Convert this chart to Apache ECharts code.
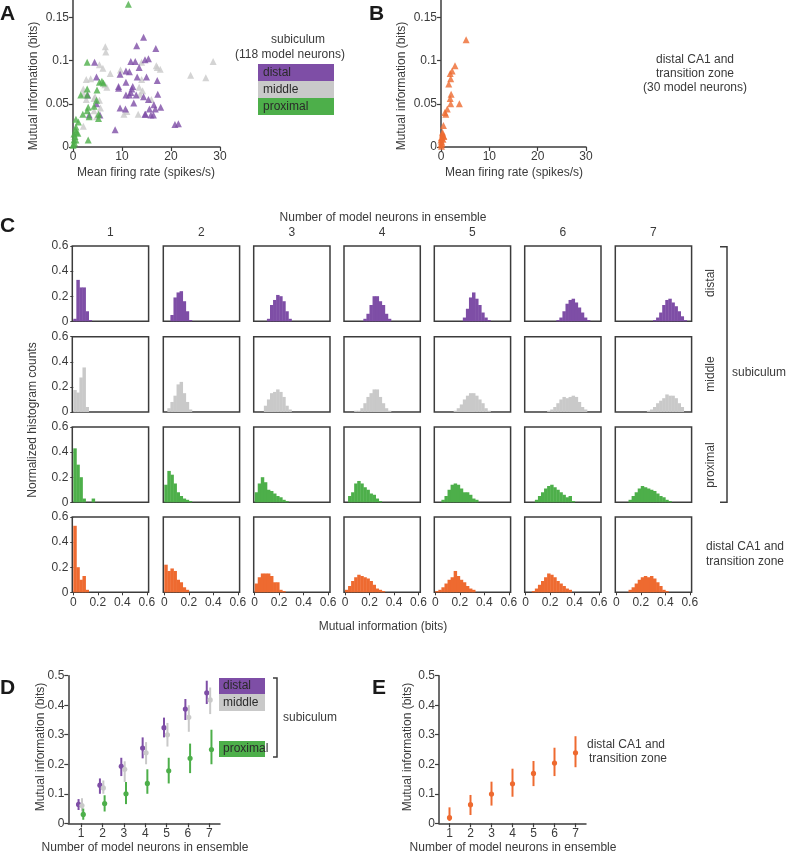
<!DOCTYPE html>
<html>
<head>
<meta charset="utf-8">
<script src="https://cdn.jsdelivr.net/npm/echarts@6/dist/echarts.min.js"></script>
<style>
html, body { margin: 0; padding: 0; background: #fff; }
#chart { width: 786px; height: 853px; }
</style>
</head>
<body>
<div id="chart"></div>
<script>
// ---- panel A / B : firing rate (spikes/s) vs mutual information (bits)
var distalPts = [[14.4,0.127],[13.0,0.117],[16.9,0.114],[4.4,0.098],[11.8,0.099],[12.7,0.099],[14.7,0.101],
    [15.4,0.102],[13.5,0.092],[10.8,0.088],[11.5,0.087],[9.6,0.084],[13.1,0.081],[15.0,0.081],[17.2,0.077],
    [10.8,0.075],[9.3,0.070],[9.3,0.068],[12.0,0.067],[12.2,0.070],[11.8,0.063],[10.8,0.060],[11.5,0.060],
    [12.9,0.060],[17.3,0.061],[14.4,0.058],[15.4,0.055],[12.4,0.051],[16.5,0.049],[9.6,0.045],[10.7,0.044],
    [15.6,0.044],[17.9,0.046],[14.8,0.038],[16.8,0.044],[15.9,0.037],[16.4,0.037],[14.7,0.038],[8.6,0.020],
    [20.8,0.026],[21.5,0.027],[3.0,0.060],[4.8,0.050],[4.8,0.081],[5.5,0.037],[3.3,0.037]];
var middlePts = [[6.6,0.116],[6.7,0.110],[28.6,0.099],[24.0,0.083],[27.1,0.080],[5.4,0.095],[6.1,0.091],
    [7.6,0.085],[2.7,0.078],[3.6,0.079],[9.7,0.089],[6.9,0.069],[14.0,0.098],[17.0,0.094],[17.2,0.092],
    [17.8,0.090],[14.0,0.078],[13.5,0.069],[14.2,0.065],[13.7,0.061],[16.0,0.055],[2.1,0.067],[2.2,0.062],
    [2.7,0.055],[4.5,0.058],[5.4,0.054],[5.6,0.045],[4.3,0.042],[4.8,0.035],[2.1,0.024],[10.4,0.038],
    [13.3,0.038],[4.3,0.056],[6.5,0.072],[11.0,0.041]];
var proximalPts = [[11.3,0.165],[2.9,0.098],[1.6,0.060],[2.9,0.067],[4.9,0.066],[2.9,0.060],[5.4,0.075],
    [5.9,0.076],[6.2,0.074],[4.8,0.054],[3.1,0.046],[2.9,0.042],[5.2,0.038],[5.2,0.033],[3.3,0.035],
    [4.3,0.047],[0.6,0.032],[1.1,0.029],[0.6,0.023],[0.7,0.017],[1.0,0.016],[0.4,0.012],[0.2,0.008],
    [0.1,0.003],[0.3,0.005],[0.0,0.002],[0.6,0.008],[3.1,0.008],[2.0,0.038],[0.2,0.015],[0.5,0.020]];
var ca1Pts = [[5.2,0.124],[2.9,0.094],[2.3,0.088],[1.9,0.085],[2.0,0.079],[1.6,0.073],[2.1,0.061],
    [1.9,0.056],[2.0,0.050],[3.8,0.050],[1.3,0.044],[0.8,0.040],[1.0,0.038],[0.5,0.025],[0.3,0.017],
    [0.5,0.013],[0.6,0.012],[0.2,0.010],[0.1,0.006],[0.0,0.003],[0.1,0.001],[0.3,0.015],[0.0,0.008],
    [0.2,0.004],[0.4,0.009],[0.1,0.011]];
var rateTicks = [0, 10, 20, 30];
var infoTicks = [0, 0.05, 0.1, 0.15];

// ---- panel C : histograms, bins of BIN bits, first bin index given in *Start
var BIN = 0.025;
var ensembleSizes = ['1', '2', '3', '4', '5', '6', '7'];
var histTicks = [0, 0.2, 0.4, 0.6];
var distalStart = [0, 2, 4, 6, 9, 10, 12];
var distalHist = [
    [0.02,0.33,0.27,0.27,0.08,0.01],
    [0.05,0.19,0.23,0.24,0.16,0.08,0.01],
    [0.02,0.13,0.17,0.21,0.20,0.16,0.08,0.02],
    [0.02,0.06,0.13,0.20,0.20,0.16,0.13,0.06,0.02],
    [0.03,0.10,0.19,0.23,0.18,0.13,0.07,0.03,0.01],
    [0.01,0.03,0.08,0.14,0.17,0.18,0.15,0.11,0.07,0.03,0.01],
    [0.01,0.03,0.07,0.13,0.17,0.18,0.15,0.12,0.08,0.04,0.01]];
var middleStart = [0, 1, 3, 3, 6, 7, 10];
var middleHist = [
    [0.175,0.155,0.275,0.355,0.04],
    [0.03,0.08,0.13,0.22,0.24,0.15,0.08,0.02],
    [0.05,0.10,0.15,0.16,0.18,0.16,0.12,0.05,0.02],
    [0.01,0.01,0.03,0.07,0.12,0.15,0.18,0.18,0.12,0.07,0.03,0.01],
    [0.01,0.03,0.06,0.10,0.13,0.15,0.15,0.13,0.10,0.07,0.03,0.01],
    [0.01,0.02,0.04,0.07,0.10,0.12,0.11,0.12,0.13,0.12,0.08,0.04,0.02],
    [0.01,0.02,0.04,0.07,0.09,0.11,0.14,0.13,0.13,0.11,0.07,0.04]];
var proximalStart = [0, 0, 0, 1, 2, 3, 4];
var proximalHist = [
    [0.43,0.30,0.20,0.03,0,0,0.03],
    [0.14,0.25,0.22,0.15,0.08,0.05,0.03,0.02,0.01],
    [0.08,0.15,0.20,0.16,0.10,0.09,0.07,0.05,0.04,0.02,0.01],
    [0.05,0.08,0.15,0.17,0.15,0.12,0.10,0.07,0.06,0.03,0.01],
    [0.02,0.05,0.10,0.14,0.15,0.14,0.11,0.08,0.08,0.06,0.03,0.02],
    [0.02,0.05,0.08,0.11,0.13,0.14,0.12,0.10,0.08,0.06,0.04,0.05,0.01],
    [0.02,0.05,0.08,0.11,0.13,0.12,0.11,0.10,0.09,0.07,0.05,0.04,0.02,0.01]];
var ca1Start = [0, 0, 0, 0, 0, 2, 4];
var ca1Hist = [
    [0.53,0.20,0.10,0.13,0.02],
    [0.22,0.17,0.19,0.17,0.10,0.08,0.04,0.02],
    [0.07,0.12,0.15,0.15,0.15,0.13,0.08,0.08,0.02,0.01],
    [0.02,0.05,0.09,0.12,0.14,0.13,0.12,0.11,0.09,0.06,0.03,0.02,0.01],
    [0.01,0.02,0.04,0.07,0.10,0.12,0.17,0.13,0.10,0.08,0.05,0.03,0.02],
    [0.01,0.03,0.06,0.09,0.12,0.15,0.14,0.12,0.09,0.07,0.05,0.03,0.02],
    [0.02,0.04,0.07,0.10,0.12,0.13,0.12,0.13,0.11,0.08,0.05,0.02,0.01]];

// ---- panel D / E : mean and spread of mutual information vs ensemble size
var ensembleN = [1, 2, 3, 4, 5, 6, 7];
var distalMean = [0.064,0.129,0.193,0.255,0.324,0.387,0.442];
var distalLo   = [0.045,0.100,0.160,0.220,0.291,0.350,0.404];
var distalHi   = [0.082,0.152,0.222,0.291,0.358,0.421,0.483];
var middleMean = [0.060,0.120,0.183,0.239,0.300,0.359,0.418];
var middleLo   = [0.040,0.100,0.140,0.200,0.260,0.310,0.370];
var middleHi   = [0.085,0.145,0.210,0.275,0.340,0.400,0.460];
var proxMean   = [0.030,0.067,0.100,0.135,0.178,0.220,0.250];
var proxLo     = [0.012,0.040,0.065,0.100,0.135,0.170,0.200];
var proxHi     = [0.050,0.095,0.140,0.183,0.222,0.270,0.317];
var ca1Mean    = [0.019,0.063,0.099,0.134,0.169,0.204,0.239];
var ca1Lo      = [0.008,0.028,0.060,0.090,0.126,0.160,0.190];
var ca1Hi      = [0.054,0.096,0.141,0.185,0.211,0.256,0.295];

var PURPLE = '#7e4ea6', GRAY = '#c9c9c9', GREEN = '#4daf4a', ORANGE = '#ee6a30';
var AX = '#3c3c3c', TXT = '#3a3a3a', FONT = '"Liberation Sans", Arial, sans-serif';

var chart = echarts.init(document.getElementById('chart'));
var grids = [], xAxes = [], yAxes = [], series = [], graphics = [];

function lbl(show) {
    return { show: show, color: TXT, fontSize: 12, fontFamily: FONT, margin: 4 };
}
function addGrid(left, top, w, h, boxed) {
    grids.push({ left: left, top: top, width: w, height: h, containLabel: false, outerBoundsMode: 'none',
        show: !!boxed, borderColor: AX, borderWidth: 1.5, backgroundColor: 'transparent' });
    return grids.length - 1;
}
function txt(x, y, s, o) {
    o = o || {};
    graphics.push({ type: 'text', x: x, y: y, rotation: o.rot || 0, z: 10,
        style: { text: s, fill: o.color || TXT, fontSize: o.size || 12, fontFamily: FONT,
            fontWeight: o.bold ? 'bold' : 'normal', textAlign: o.align || 'center', textVerticalAlign: 'middle' } });
}
function box(x, y, w, h, color) {
    graphics.push({ type: 'rect', shape: { x: x, y: y, width: w, height: h }, style: { fill: color } });
}
function bracket(x0, x1, y0, y1) {
    graphics.push({ type: 'polyline', shape: { points: [[x0, y0], [x1, y0], [x1, y1], [x0, y1]] },
        style: { stroke: AX, lineWidth: 1.5, fill: null } });
}
function lineAxis(g, min, max, ticks) {
    return { gridIndex: g, type: 'value', min: min, max: max,
        axisLine: { show: true, onZero: false, lineStyle: { color: AX, width: 1.5 } },
        axisTick: { show: true, length: 4, customValues: ticks, lineStyle: { color: AX, width: 1.2 } },
        axisLabel: Object.assign(lbl(true), { customValues: ticks }), splitLine: { show: false } };
}

// ---- A and B scatter plots
function scatterPanel(left, width, sets) {
    var g = addGrid(left, 0, width, 147, false);
    xAxes.push(lineAxis(g, 0, 30, rateTicks));
    yAxes.push(lineAxis(g, 0, 0.17, infoTicks));
    sets.forEach(function (s) {
        series.push({ type: 'scatter', xAxisIndex: g, yAxisIndex: g, data: s[0], symbol: 'triangle',
            symbolSize: 7, itemStyle: { color: s[1] }, silent: true, clip: false });
    });
}
scatterPanel(73, 147, [[middlePts, GRAY], [distalPts, PURPLE], [proximalPts, GREEN]]);
scatterPanel(441, 145, [[ca1Pts, ORANGE]]);

// ---- C histogram grid
var colLeft = [72.3, 163.3, 253.7, 344, 434.3, 524.7, 615.3], rowTop = [246, 336.7, 427, 517];
var BOXW = 76.3, BOXH = 75.3;
var rows = [[distalHist, distalStart, PURPLE], [middleHist, middleStart, GRAY],
            [proximalHist, proximalStart, GREEN], [ca1Hist, ca1Start, ORANGE]];

function histItem(params, api) {
    var x0 = api.value(0), h = api.value(1);
    var p1 = api.coord([x0, h]), p2 = api.coord([x0 + BIN, 0]);
    return { type: 'rect', shape: { x: p1[0], y: p1[1], width: p2[0] - p1[0] + 0.4, height: p2[1] - p1[1] },
        style: { fill: api.visual('color') } };
}

rows.forEach(function (row, r) {
    for (var c = 0; c < 7; c++) {
        var g = addGrid(colLeft[c], rowTop[r], BOXW, BOXH, true);
        xAxes.push({ gridIndex: g, type: 'value', min: -0.008, max: 0.615,
            axisLine: { show: false },
            axisTick: { show: r === 3, length: 3, customValues: histTicks, lineStyle: { color: AX } },
            axisLabel: Object.assign(lbl(r === 3), { customValues: histTicks }),
            splitLine: { show: false } });
        yAxes.push({ gridIndex: g, type: 'value', min: 0, max: 0.6, interval: 0.2,
            axisLine: { show: false },
            axisTick: { show: c === 0, length: 3, lineStyle: { color: AX } },
            axisLabel: lbl(c === 0), splitLine: { show: false } });
        var data = row[0][c].map(function (h, i) { return [(row[1][c] + i) * BIN, h]; });
        series.push({ type: 'custom', xAxisIndex: g, yAxisIndex: g, renderItem: histItem,
            encode: { x: 0, y: 1 }, data: data, itemStyle: { color: row[2] }, silent: true });
    }
});
ensembleSizes.forEach(function (s, c) { txt(colLeft[c] + BOXW / 2, 233, s); });

// ---- D and E error bar panels
function errItem(params, api) {
    var x = api.value(0);
    var m = api.coord([x, api.value(1)]), lo = api.coord([x, api.value(2)]), hi = api.coord([x, api.value(3)]);
    var col = api.visual('color');
    return { type: 'group', children: [
        { type: 'line', shape: { x1: lo[0], y1: lo[1], x2: hi[0], y2: hi[1] }, style: { stroke: col, lineWidth: 2 } },
        { type: 'circle', shape: { cx: m[0], cy: m[1], r: 2.6 }, style: { fill: col } }] };
}
function errPanel(left, width, xmin, sets) {
    var g = addGrid(left, 675.7, width, 147.6, false);
    xAxes.push(lineAxis(g, xmin, 7.5, ensembleN));
    yAxes.push({ gridIndex: g, type: 'value', min: 0, max: 0.5, interval: 0.1,
        axisLine: { show: true, onZero: false, lineStyle: { color: AX, width: 1.5 } },
        axisTick: { show: true, length: 4, lineStyle: { color: AX, width: 1.2 } },
        axisLabel: lbl(true), splitLine: { show: false } });
    sets.forEach(function (s) {
        var data = ensembleN.map(function (n, i) { return [n + s[4], s[0][i], s[1][i], s[2][i]]; });
        series.push({ type: 'custom', xAxisIndex: g, yAxisIndex: g, renderItem: errItem,
            encode: { x: 0, y: [1, 2, 3] }, data: data, itemStyle: { color: s[3] }, silent: true, clip: false });
    });
}
errPanel(68.3, 151.7, 0.4, [[distalMean, distalLo, distalHi, PURPLE, -0.12],
                            [middleMean, middleLo, middleHi, GRAY, 0.04],
                            [proxMean, proxLo, proxHi, GREEN, 0.1]]);
errPanel(439, 147, 0.5, [[ca1Mean, ca1Lo, ca1Hi, ORANGE, 0]]);

// ---- labels, legends, brackets
txt(0, 14, 'A', { size: 21, bold: true, align: 'left', color: '#1a1a1a' });
txt(369, 14, 'B', { size: 21, bold: true, align: 'left', color: '#1a1a1a' });
txt(0, 226, 'C', { size: 21, bold: true, align: 'left', color: '#1a1a1a' });
txt(0, 688, 'D', { size: 21, bold: true, align: 'left', color: '#1a1a1a' });
txt(372, 688, 'E', { size: 21, bold: true, align: 'left', color: '#1a1a1a' });

txt(34, 86, 'Mutual information (bits)', { rot: Math.PI / 2 });
txt(146, 173, 'Mean firing rate (spikes/s)');
txt(402, 86, 'Mutual information (bits)', { rot: Math.PI / 2 });
txt(514, 173, 'Mean firing rate (spikes/s)');

txt(298, 40, 'subiculum');
txt(290, 55, '(118 model neurons)');
box(258, 64, 76, 17, PURPLE); box(258, 81, 76, 17, GRAY); box(258, 98, 76, 17, GREEN);
txt(263, 72.5, 'distal', { align: 'left', color: '#2a2a2a' });
txt(263, 89.5, 'middle', { align: 'left', color: '#2a2a2a' });
txt(263, 106.5, 'proximal', { align: 'left', color: '#2a2a2a' });

txt(695, 60, 'distal CA1 and');
txt(695, 74, 'transition zone');
txt(695, 88, '(30 model neurons)');

txt(383, 218, 'Number of model neurons in ensemble');
txt(33, 420, 'Normalized histogram counts', { rot: Math.PI / 2 });
txt(383, 627, 'Mutual information (bits)');
txt(711, 283, 'distal', { rot: Math.PI / 2 });
txt(711, 374, 'middle', { rot: Math.PI / 2 });
txt(711, 465, 'proximal', { rot: Math.PI / 2 });
bracket(720, 727, 246.7, 502.3);
txt(732, 373, 'subiculum', { align: 'left' });
txt(706, 547, 'distal CA1 and', { align: 'left' });
txt(706, 562, 'transition zone', { align: 'left' });

box(219, 678, 46, 16, PURPLE); box(219, 694, 46, 17, GRAY); box(219, 741, 46, 16, GREEN);
txt(223, 686, 'distal', { align: 'left', color: '#2a2a2a' });
txt(223, 702.5, 'middle', { align: 'left', color: '#2a2a2a' });
txt(223, 749, 'proximal', { align: 'left', color: '#2a2a2a' });
bracket(273, 277, 678, 757);
txt(283, 718, 'subiculum', { align: 'left' });
txt(41, 747, 'Mutual information (bits)', { rot: Math.PI / 2 });
txt(145, 848, 'Number of model neurons in ensemble');
txt(408, 747, 'Mutual information (bits)', { rot: Math.PI / 2 });
txt(513, 848, 'Number of model neurons in ensemble');
txt(587, 745, 'distal CA1 and', { align: 'left' });
txt(589, 759, 'transition zone', { align: 'left' });

chart.setOption({
    animation: false,
    backgroundColor: '#fff',
    textStyle: { fontFamily: FONT },
    grid: grids, xAxis: xAxes, yAxis: yAxes, series: series, graphic: graphics
});
window.addEventListener('resize', function () { chart.resize(); });
</script>
</body>
</html>
